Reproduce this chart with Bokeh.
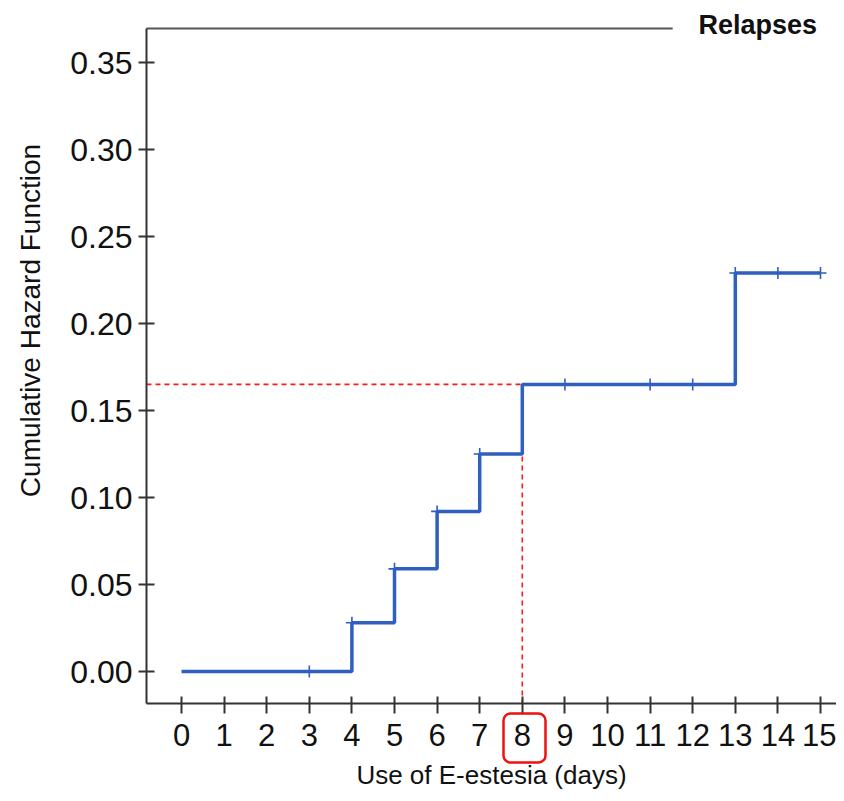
import math
from bokeh.plotting import figure
from bokeh.models import Range1d, FixedTicker, PrintfTickFormatter, BoxAnnotation, Label
from bokeh.embed import file_html
from bokeh.resources import INLINE

# Step function (cumulative hazard) data
event_days = [0, 4, 5, 6, 7, 8, 13, 15]
cum_hazard = [0.0, 0.028, 0.059, 0.092, 0.125, 0.165, 0.229, 0.229]

# Censored observations
censor_days = [3, 4, 5, 6, 7, 9, 11, 12, 13, 14, 15]
censor_haz = [0.0, 0.028, 0.059, 0.092, 0.125, 0.165, 0.165, 0.165, 0.229, 0.229, 0.229]

x_ticks = list(range(0, 16))
y_ticks = [0.0, 0.05, 0.10, 0.15, 0.20, 0.25, 0.30, 0.35]

highlight_day = 8
highlight_haz = 0.165

# axis extents (data) and full-canvas view ranges
AX_X0, AX_Y0, AX_Y1 = -0.822, -0.0184, 0.3695
W, H = 836, 793
PX_PER_X, PX_PER_Y = 42.6, 1740.0
X_ZERO_PX, Y_ZERO_PX = 181, 671
VX0, VX1 = -X_ZERO_PX / PX_PER_X, (W - X_ZERO_PX) / PX_PER_X
VY0, VY1 = -(H - Y_ZERO_PX) / PX_PER_Y, Y_ZERO_PX / PX_PER_Y

p = figure(width=W, height=H, output_backend="svg", toolbar_location=None,
           x_range=Range1d(VX0, VX1), y_range=Range1d(VY0, VY1),
           min_border=0, min_border_left=0, min_border_right=0,
           min_border_top=0, min_border_bottom=0)
p.outline_line_color = None
p.xgrid.visible = False
p.ygrid.visible = False
p.background_fill_color = "white"
p.border_fill_color = "white"

font = "Liberation Sans"
for ax in (p.xaxis[0], p.yaxis[0]):
    ax.axis_line_color = "#333333"
    ax.axis_line_width = 2
    ax.major_tick_line_color = "#333333"
    ax.major_tick_line_width = 2
    ax.minor_tick_line_color = None
    ax.major_label_text_font = font
    ax.major_label_text_color = "#111111"
    ax.axis_label_text_font = font
    ax.axis_label_text_font_style = "normal"
    ax.axis_label_text_color = "#111111"

p.xaxis.fixed_location = AX_Y0
p.xaxis.bounds = (AX_X0, VX1)
p.xaxis.ticker = FixedTicker(ticks=x_ticks)
p.xaxis.major_tick_in = 7
p.xaxis.major_tick_out = 10
p.xaxis.major_label_standoff = 10
p.xaxis.major_label_text_font_size = "31px"
p.xaxis.axis_label = "Use of E-estesia (days)"
p.xaxis.axis_label_text_font_size = "26px"
p.xaxis.axis_label_standoff = 11

p.yaxis.fixed_location = AX_X0
p.yaxis.bounds = (AX_Y0, AX_Y1)
p.yaxis.ticker = FixedTicker(ticks=y_ticks)
p.yaxis.formatter = PrintfTickFormatter(format="%.2f")
p.yaxis.major_tick_in = 8
p.yaxis.major_tick_out = 8
p.yaxis.major_label_standoff = 6
p.yaxis.major_label_text_font_size = "32px"

# top frame line (interrupted by legend)
p.segment(x0=[AX_X0], y0=[AX_Y1], x1=[11.53], y1=[AX_Y1], line_color="#555555", line_width=2)

# red dashed reference lines
p.segment(x0=[AX_X0, highlight_day], y0=[highlight_haz, highlight_haz],
          x1=[highlight_day, highlight_day], y1=[highlight_haz, AX_Y0],
          line_color="#ff1a1a", line_width=1.6, line_dash="5 4")

# step line
p.step(x=event_days, y=cum_hazard, mode="after", line_color="#2f5fbf", line_width=3.5)

# censor marks
p.scatter(x=censor_days, y=censor_haz, marker="cross", size=12, line_color="#2f5fbf", line_width=1.6)

# red rounded box around tick label 8
box = BoxAnnotation(left=503, right=545, top=713, bottom=762,
                    left_units="canvas", right_units="canvas", top_units="canvas", bottom_units="canvas",
                    fill_alpha=0, line_color="#ee1111", line_alpha=1.0, line_width=2.5, border_radius=7,
                    level="overlay")
p.add_layout(box)

ylab = Label(x=30, y=320, x_units="canvas", y_units="canvas", text="Cumulative Hazard Function",
             text_font=font, text_font_size="28px", angle=math.pi / 2,
             text_align="center", text_baseline="middle", text_color="#111111")
p.add_layout(ylab)

lab = Label(x=698, y=24, x_units="canvas", y_units="canvas", text="Relapses", text_font=font,
            text_font_size="27px", text_font_style="bold", text_baseline="middle",
            text_align="left", text_color="#111111")
p.add_layout(lab)

open("out.html", "w").write(file_html(p, INLINE))
